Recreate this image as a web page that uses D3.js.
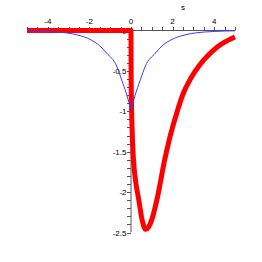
<!DOCTYPE html>
<html>
<head>
<meta charset="utf-8">
<script src="https://cdn.jsdelivr.net/npm/d3@7"></script>
<style>
  body { margin: 0; background: #fff; }
  svg { display: block; }
  text { font-family: "Liberation Sans", Arial, sans-serif; font-size: 8px; fill: #000; }
</style>
</head>
<body>
<div id="chart"></div>
<script>
const W = 262;
const H = 262;

// red curve (s, value)
const redS = [-5, 0, 0.005, 0.02, 0.05, 0.12, 0.22, 0.37, 0.53, 0.7, 0.85, 1.0, 1.25, 1.62, 1.88, 2.2, 2.51, 2.9, 3.32, 3.7, 4.12, 4.5, 5];
const redV = [0, 0, -0.5, -0.85, -1.2, -1.6, -1.86, -2.09, -2.34, -2.46, -2.43, -2.34, -2.09, -1.6, -1.31, -1.02, -0.78, -0.58, -0.42, -0.31, -0.21, -0.145, -0.08];

// blue curve (s, value), left and right of the cusp
const blueLeftS = [-5, -4, -3.09, -2.5, -1.97, -1.5, -1.17, -0.69, -0.45, -0.2, 0];
const blueLeftV = [-0.004, -0.012, -0.03, -0.06, -0.11, -0.19, -0.28, -0.44, -0.61, -0.8, -0.98];
const blueRightS = [0, 0.2, 0.45, 0.69, 1.17, 1.5, 1.97, 2.5, 3.09, 4, 5];
const blueRightV = [-0.98, -0.8, -0.61, -0.44, -0.28, -0.19, -0.11, -0.06, -0.03, -0.012, -0.004];

const xTickLabels = [-4, -2, 0, 2, 4];
const yTickLabels = [0, -0.5, -1, -1.5, -2, -2.5];

const x = d3.scaleLinear().domain([-5, 5]).range([27, 235]);
const y = d3.scaleLinear().domain([0, -2.5]).range([30.5, 232.5]);

const svg = d3.select('#chart').append('svg')
    .attr('width', W)
    .attr('height', H);

const axisColor = '#555';

// x axis
const xMinor = d3.range(-10, 11).map(d => d / 2);
svg.append('line')
    .attr('x1', x(-5)).attr('x2', x(5))
    .attr('y1', y(0)).attr('y2', y(0))
    .attr('stroke', axisColor)
    .attr('stroke-width', 1);
svg.selectAll('.xtick')
    .data(xMinor)
    .enter()
    .append('line')
    .attr('class', 'xtick')
    .attr('x1', d => Math.round(x(d)) + 0.5).attr('x2', d => Math.round(x(d)) + 0.5)
    .attr('y1', y(0) - 3.5).attr('y2', y(0))
    .attr('stroke', axisColor);
svg.selectAll('.xlab')
    .data(xTickLabels)
    .enter()
    .append('text')
    .attr('class', 'xlab')
    .attr('x', d => x(d))
    .attr('y', 24)
    .attr('text-anchor', 'middle')
    .text(d => d < 0 ? '-' + Math.abs(d) : d);
svg.append('text')
    .attr('x', x(2.5))
    .attr('y', 10)
    .attr('text-anchor', 'middle')
    .text('s');

// y axis
const yMinor = d3.range(0, 26).map(d => -d / 10);
svg.append('line')
    .attr('x1', x(0)).attr('x2', x(0))
    .attr('y1', y(0)).attr('y2', y(-2.5))
    .attr('stroke', axisColor)
    .attr('stroke-width', 1);
svg.selectAll('.ytick')
    .data(yMinor)
    .enter()
    .append('line')
    .attr('class', 'ytick')
    .attr('x1', x(0) - 4).attr('x2', x(0))
    .attr('y1', d => Math.round(y(d)) + 0.5).attr('y2', d => Math.round(y(d)) + 0.5)
    .attr('stroke', axisColor);
svg.selectAll('.ylab')
    .data(yTickLabels)
    .enter()
    .append('text')
    .attr('class', 'ylab')
    .attr('x', x(0) - 4.5)
    .attr('y', d => y(d) + 3)
    .attr('text-anchor', 'end')
    .text(d => d < 0 ? '-' + Math.abs(d) : d);

// curves
const line = d3.line()
    .x(d => x(d[0]))
    .y(d => y(d[1]))
    .curve(d3.curveMonotoneX);

svg.append('path')
    .datum(d3.zip(redS, redV))
    .attr('d', line)
    .attr('fill', 'none')
    .attr('stroke', '#ff0000')
    .attr('stroke-width', 5)
    .attr('stroke-linejoin', 'round');

[d3.zip(blueLeftS, blueLeftV), d3.zip(blueRightS, blueRightV)].forEach(pts => {
    svg.append('path')
        .datum(pts)
        .attr('d', line)
        .attr('fill', 'none')
        .attr('stroke', '#3b3bff')
        .attr('stroke-width', 1);
});
</script>
</body>
</html>
